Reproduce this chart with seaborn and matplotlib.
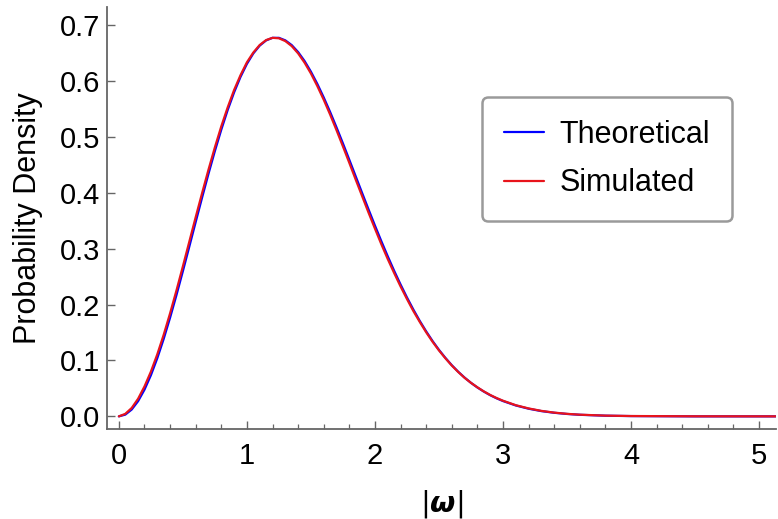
import matplotlib
matplotlib.use("Agg")
import matplotlib.pyplot as plt
import seaborn as sns
import pandas as pd

# values
x_vals = [0.00, 0.05, 0.10, 0.15, 0.20, 0.25, 0.30, 0.35, 0.40, 0.45,
          0.50, 0.55, 0.60, 0.65, 0.70, 0.75, 0.80, 0.85, 0.90, 0.95,
          1.00, 1.05, 1.10, 1.15, 1.20, 1.25, 1.30, 1.35, 1.40, 1.45,
          1.50, 1.55, 1.60, 1.65, 1.70, 1.75, 1.80, 1.85, 1.90, 1.95,
          2.00, 2.05, 2.10, 2.15, 2.20, 2.25, 2.30, 2.35, 2.40, 2.45,
          2.50, 2.55, 2.60, 2.65, 2.70, 2.75, 2.80, 2.85, 2.90, 2.95,
          3.00, 3.10, 3.20, 3.30, 3.40, 3.50, 3.60, 3.80, 4.00, 4.50, 5.13]
theoretical = [0.0000, 0.0031, 0.0122, 0.0272, 0.0478, 0.0736, 0.1041, 0.1387, 0.1767, 0.2173,
               0.2600, 0.3037, 0.3479, 0.3916, 0.4342, 0.4749, 0.5131, 0.5483, 0.5798, 0.6074,
               0.6307, 0.6494, 0.6634, 0.6727, 0.6773, 0.6773, 0.6728, 0.6643, 0.6518, 0.6359,
               0.6167, 0.5948, 0.5706, 0.5446, 0.5170, 0.4884, 0.4590, 0.4293, 0.3996, 0.3703,
               0.3414, 0.3134, 0.2864, 0.2605, 0.2360, 0.2128, 0.1911, 0.1708, 0.1521, 0.1348,
               0.1190, 0.1047, 0.0916, 0.0799, 0.0694, 0.0600, 0.0517, 0.0444, 0.0379, 0.0323,
               0.0274, 0.0195, 0.0137, 0.0094, 0.0064, 0.0043, 0.0028, 0.0012, 0.0005, 0.0000, 0.0000]
simulated = [0.0000, 0.0045, 0.0150, 0.0315, 0.0535, 0.0800, 0.1110, 0.1460, 0.1845, 0.2255,
             0.2685, 0.3125, 0.3565, 0.3995, 0.4415, 0.4815, 0.5190, 0.5530, 0.5840, 0.6105,
             0.6335, 0.6510, 0.6645, 0.6733, 0.6773, 0.6765, 0.6715, 0.6625, 0.6495, 0.6330,
             0.6135, 0.5910, 0.5665, 0.5400, 0.5120, 0.4830, 0.4535, 0.4235, 0.3940, 0.3645,
             0.3360, 0.3080, 0.2815, 0.2565, 0.2325, 0.2100, 0.1885, 0.1690, 0.1505, 0.1335,
             0.1180, 0.1040, 0.0910, 0.0795, 0.0690, 0.0600, 0.0520, 0.0447, 0.0383, 0.0328,
             0.0280, 0.0200, 0.0142, 0.0098, 0.0067, 0.0045, 0.0030, 0.0013, 0.0006, 0.0001, 0.0000]
series_names = ["Theoretical", "Simulated"]
x_ticks = [0, 1, 2, 3, 4, 5]
y_ticks = [0.0, 0.1, 0.2, 0.3, 0.4, 0.5, 0.6, 0.7]

df = pd.DataFrame({
    "x": x_vals * 2,
    "y": theoretical + simulated,
    "series": [series_names[0]] * len(x_vals) + [series_names[1]] * len(x_vals),
})

sns.set_theme(style="ticks")
plt.rcParams["font.family"] = ["Liberation Sans", "DejaVu Sans"]
plt.rcParams["mathtext.fontset"] = "dejavusans"
plt.rcParams["text.color"] = "black"
plt.rcParams["axes.labelcolor"] = "black"

fig = plt.figure(figsize=(7.78, 5.19), dpi=100)
ax = fig.add_axes([0.138, 0.173, 0.859, 0.813])

sns.lineplot(data=df, x="x", y="y", hue="series",
             palette={"Theoretical": "#0000ff", "Simulated": "#e8141b"},
             linewidth=1.6, ax=ax, sort=False)

ax.set_xlim(-0.09, 5.13)
ax.set_ylim(-0.023, 0.732)
ax.set_xticks(x_ticks)
ax.set_xticklabels([str(t) for t in x_ticks])
ax.set_xticks([i * 0.2 for i in range(26) if i % 5 != 0], minor=True)
ax.set_yticks(y_ticks)
ax.set_yticklabels([f"{t:.1f}" for t in y_ticks])

sns.despine(ax=ax)
for side in ["left", "bottom"]:
    ax.spines[side].set_color("#666666")
    ax.spines[side].set_linewidth(1.3)

ax.tick_params(axis="both", which="major", direction="in", length=5.5, width=1.0,
               color="#666666", labelsize=21, labelcolor="black")
ax.tick_params(axis="x", which="minor", direction="in", length=3.5, width=0.9, color="#666666")
ax.tick_params(axis="x", which="major", pad=9)
ax.tick_params(axis="y", which="major", pad=5)

ax.set_xlabel(r"$|\mathbfit{\omega}|$", fontsize=21, labelpad=13)
ax.set_ylabel("Probability Density", fontsize=22, labelpad=12.5)

leg = ax.legend(title=None, loc="upper left", bbox_to_anchor=(0.56, 0.787),
                borderaxespad=0, fontsize=22, handlelength=1.3, handletextpad=0.5,
                labelspacing=0.61, borderpad=0.74, fancybox=True, frameon=True)
frame = leg.get_frame()
frame.set_edgecolor("#9a9a9a")
frame.set_linewidth(1.8)
frame.set_alpha(1)
for h in leg.get_lines():
    h.set_linewidth(1.6)
for t in leg.get_texts():
    t.set_color("black")

fig.savefig("out.png", dpi=100)
